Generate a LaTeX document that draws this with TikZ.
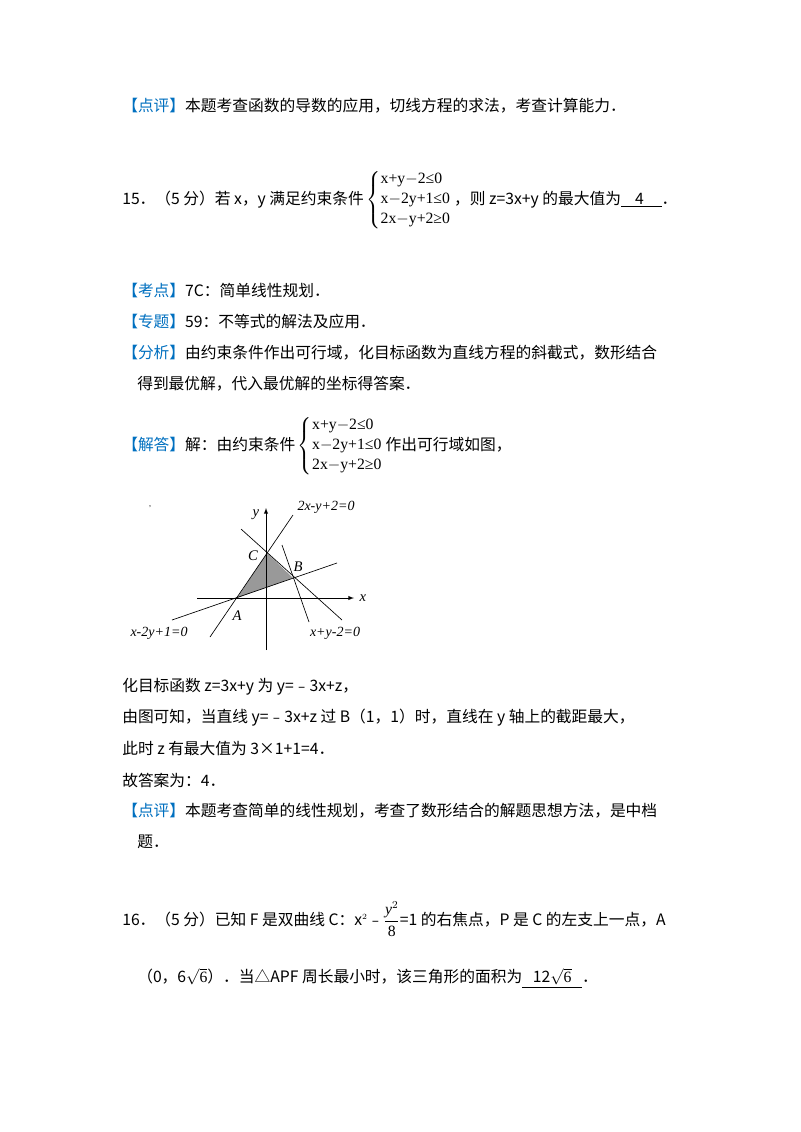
\documentclass[tikz,border=0pt]{standalone}
\usepackage{amsmath}
\usepackage{fontspec}
\setmainfont{Noto Sans CJK SC}
\newfontfamily\lib{Liberation Serif}
\definecolor{kblue}{RGB}{0,112,192}
\newcommand{\kb}[1]{\textcolor{kblue}{【#1】}}
\newcommand{\sysA}{\,$\left\{\begin{tabular}{@{}l@{}}\lib x+y$-$2≤0\\[1pt]\lib x$-$2y+1≤0\\[1pt]\lib 2x$-$y+2≥0\end{tabular}\right.$\,}
\begin{document}
\begin{tikzpicture}[x=0.75pt,y=-0.75pt,
 txt/.style={anchor=west,inner sep=0pt,font=\fontsize{11.8pt}{14pt}\selectfont},
 gl/.style={inner sep=0pt,font=\lib\itshape\fontsize{11pt}{13pt}\selectfont},
 ll/.style={inner sep=0pt,font=\lib\itshape\fontsize{10.5pt}{12pt}\selectfont},
 ln/.style={line width=0.5pt}]
\useasboundingbox (0,0) rectangle (800,1132);
\fill[white] (0,0) rectangle (800,1132);
\node[txt] (t1) at (122,106) {\kb{点评}本题考查函数的导数的应用，切线方程的求法，考查计算能力．};
\node[txt] (t2) at (122,200) {15．（5 分）若 x，y 满足约束条件\sysA，则 z=3x+y 的最大值为\underline{\ \ \ \ 4\ \ \ \ \ }．};
\node[txt] (t3) at (122,291) {\kb{考点}7C：简单线性规划．};
\node[txt] (t4) at (122,322) {\kb{专题}59：不等式的解法及应用．};
\node[txt] (t5) at (122,353) {\kb{分析}由约束条件作出可行域，化目标函数为直线方程的斜截式，数形结合};
\node[txt] (t6) at (137,384) {得到最优解，代入最优解的坐标得答案．};
\node[txt] (t7) at (122,446) {\kb{解答}解：由约束条件\sysA 作出可行域如图，};
% graph
\coordinate (A) at (237,598);
\coordinate (B) at (293,578);
\coordinate (C) at (267,553);
\fill[gray!80] (A)--(B)--(C)--cycle;
\draw[ln,-latex] (197,598) -- (354,598) node[gl,right=4pt] (xl) {x};
\draw[ln,-latex] (266,650) -- (266,508);
\node[gl] (yl) at (256,515) {y};
\draw[ln] (172,620) -- (337,563);
\draw[ln] (210,637) -- (293,515);
\draw[ln] (241,529) -- (342,620);
\draw[ln] (282,545) -- (309,622);
\node[gl] (cl) at (253,556) {C};
\node[gl] (bl) at (298,567) {B};
\node[gl] (al) at (237,616) {A};
\node[ll] (l1) at (326,507) {2x-y+2=0};
\node[ll] (l2) at (159,633) {x-2y+1=0};
\node[ll] (l3) at (335,633) {x+y-2=0};
\node[gl,font=\lib\fontsize{6pt}{7pt}\selectfont] (dot) at (150,507) {,};
\node[txt] (t8) at (122,687) {化目标函数 z=3x+y 为 y=﹣3x+z，};
\node[txt] (t9) at (122,718) {由图可知，当直线 y=﹣3x+z 过 B（1，1）时，直线在 y 轴上的截距最大，};
\node[txt] (t10) at (122,749) {此时 z 有最大值为 3×1+1=4．};
\node[txt] (t11) at (122,780) {故答案为：4．};
\node[txt] (t12) at (122,811) {\kb{点评}本题考查简单的线性规划，考查了数形结合的解题思想方法，是中档};
\node[txt] (t13) at (137,842) {题．};
\node[txt] (t14) at (122,919) {16．（5 分）已知 F 是双曲线 C：x$^{\scriptscriptstyle 2}$﹣$\dfrac{\text{\lib\itshape y}^{2}}{\text{\lib 8}}$=1 的右焦点，P 是 C 的左支上一点，A};
\node[txt] (t15) at (137,978) {（0，6$\sqrt{\text{\lib 6}}$）．当△APF 周长最小时，该三角形的面积为\underline{\ \ \ 12$\sqrt{\text{\lib 6}}$\ \ \ }．};
\end{tikzpicture}
\end{document}
